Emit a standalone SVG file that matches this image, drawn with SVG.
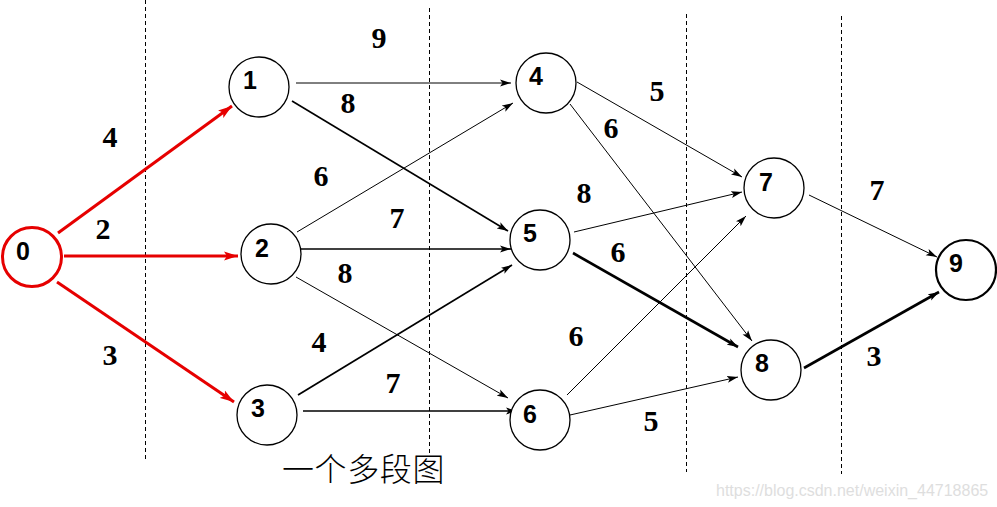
<svg xmlns="http://www.w3.org/2000/svg" width="997" height="507" viewBox="0 0 997 507">
<style>
.node{fill:#fff;stroke:#000;stroke-width:1.3}
.nl{font-family:"Liberation Sans",Arial,sans-serif;font-weight:bold;font-size:25px;text-anchor:middle;fill:#000}
.w{font-family:"Liberation Serif","Times New Roman",serif;font-weight:bold;font-size:30px;text-anchor:middle;fill:#000}
.e{fill:none;stroke:#000;stroke-width:1;marker-end:url(#ah)}
.r{fill:none;stroke:#e60000;stroke-width:3;marker-end:url(#rh)}
.d{stroke:#000;stroke-width:1;stroke-dasharray:4 3}
</style>
<defs>
<marker id="ah" markerUnits="userSpaceOnUse" markerWidth="12" markerHeight="8" refX="11" refY="4" orient="auto">
<path d="M0,0.5 L11,4 L0,7.5 L2.5,4 z" fill="#000"/>
</marker>
<marker id="rh" markerUnits="userSpaceOnUse" markerWidth="15" markerHeight="10" refX="14" refY="5" orient="auto">
<path d="M0,0.5 L14,5 L0,9.5 L3,5 z" fill="#e60000"/>
</marker>
</defs>
<rect width="997" height="507" fill="#fff"/>
<g id="dividers">
<line class="d" x1="145.5" y1="0" x2="145.5" y2="460"/>
<line class="d" x1="429.5" y1="8" x2="429.5" y2="455"/>
<line class="d" x1="686.5" y1="14" x2="686.5" y2="472"/>
<line class="d" x1="841.5" y1="16" x2="841.5" y2="474"/>
</g>
<g id="connectors">
<path class="r" d="M58,233 L232,106"/>
<path class="r" d="M64,256 L238,256"/>
<path class="r" d="M57,282 L234,402"/>
<path class="e" d="M296,83 L511,83"/>
<path class="e" d="M292,101 L508,231" style="stroke-width:1.6"/>
<path class="e" d="M297,232 L513,103"/>
<path class="e" d="M300,249 L511,249" style="stroke-width:1.3"/>
<path class="e" d="M296,277 L508,398"/>
<path class="e" d="M298,395 L512,265" style="stroke-width:1.8"/>
<path class="e" d="M303,411 L517,411" style="stroke-width:1.3"/>
<path class="e" d="M577,82 L742,177"/>
<path class="e" d="M570,104 L752,341"/>
<path class="e" d="M574,232 L742,192"/>
<path class="e" d="M573,253 L738,347" style="stroke-width:2.6"/>
<path class="e" d="M567,395 L746,216"/>
<path class="e" d="M570,415 L738,377"/>
<path class="e" d="M809,195 L937,257"/>
<path class="e" d="M804,368 L939,292" style="stroke-width:2.6"/>
</g>
<g id="weights">
<text class="w" x="379" y="48">9</text>
<text class="w" x="348" y="113">8</text>
<text class="w" x="110" y="147">4</text>
<text class="w" x="103" y="239">2</text>
<text class="w" x="110" y="365">3</text>
<text class="w" x="321" y="186">6</text>
<text class="w" x="397" y="228">7</text>
<text class="w" x="345" y="283">8</text>
<text class="w" x="319" y="352">4</text>
<text class="w" x="393" y="393">7</text>
<text class="w" x="657" y="101">5</text>
<text class="w" x="611" y="138">6</text>
<text class="w" x="584" y="203">8</text>
<text class="w" x="618" y="262">6</text>
<text class="w" x="576" y="346">6</text>
<text class="w" x="651" y="431">5</text>
<text class="w" x="877" y="200">7</text>
<text class="w" x="874" y="366">3</text>
</g>
<g id="node0"><circle cx="32" cy="257" r="29.5" fill="#fff" stroke="#e60000" stroke-width="3"/><text class="nl" x="23" y="260">0</text></g>
<g id="node1"><circle class="node" cx="259" cy="87" r="30"/><text class="nl" x="250" y="89">1</text></g>
<g id="node2"><circle class="node" cx="271" cy="254" r="30"/><text class="nl" x="262" y="257">2</text></g>
<g id="node3"><circle class="node" cx="267" cy="415" r="30"/><text class="nl" x="258" y="417">3</text></g>
<g id="node4"><circle class="node" cx="546" cy="83" r="30"/><text class="nl" x="536" y="85">4</text></g>
<g id="node5"><circle class="node" cx="540" cy="240" r="30"/><text class="nl" x="530" y="242">5</text></g>
<g id="node6"><circle class="node" cx="540" cy="420" r="30"/><text class="nl" x="530" y="423">6</text></g>
<g id="node7"><circle class="node" cx="774" cy="188" r="30"/><text class="nl" x="766" y="191">7</text></g>
<g id="node8"><circle class="node" cx="771" cy="370" r="30"/><text class="nl" x="762" y="372">8</text></g>
<g id="node9"><circle class="node" cx="966" cy="270" r="30" style="stroke-width:2.2"/><text class="nl" x="956" y="272">9</text></g>
<text x="282" y="481" font-family="'Liberation Serif','Noto Sans CJK SC',serif" font-size="32" font-weight="300" letter-spacing="0.6" fill="#000">一个多段图</text>
<text x="716" y="496" font-family="'Liberation Sans',Arial,sans-serif" font-size="16" fill="#dedede">https://blog.csdn.net/weixin_44718865</text>
</svg>
